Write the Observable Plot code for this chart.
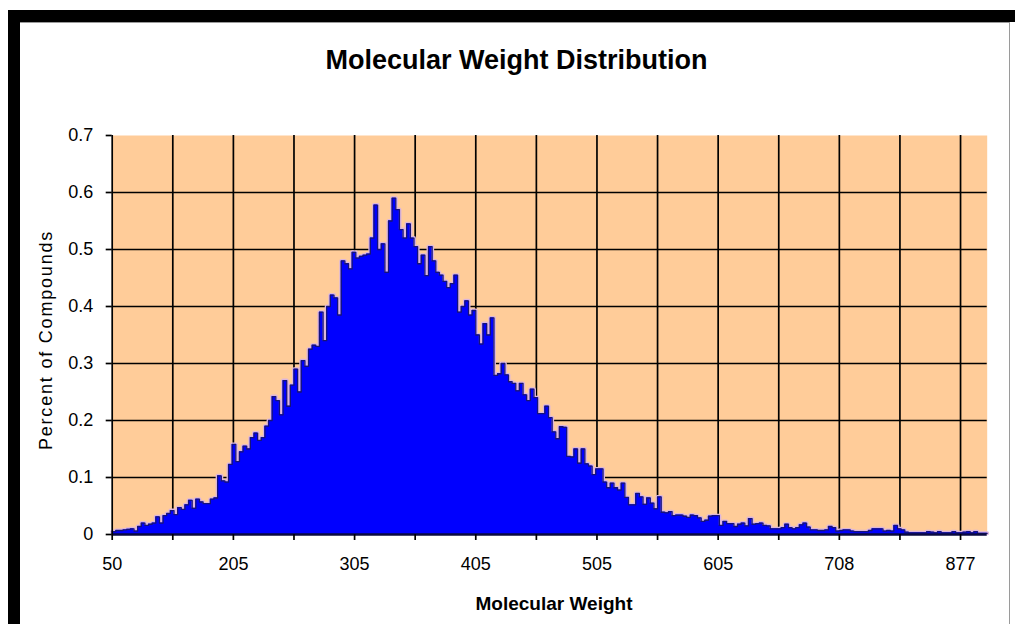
<!DOCTYPE html>
<html>
<head>
<meta charset="utf-8">
<script src="https://cdn.jsdelivr.net/npm/d3@7"></script>
<script src="https://cdn.jsdelivr.net/npm/@observablehq/plot@0.6"></script>
<style>
  body { margin: 0; background: #fff; }
  #wrap { position: relative; width: 1015px; height: 624px; overflow: hidden; font-family: "Liberation Sans", Arial, sans-serif; color: #000; }
  #chart { position: absolute; left: 0; top: 0; }
  .blk { position: absolute; background: #000; }
  .gry { position: absolute; background: #9a9a9a; }
  .lbl { position: absolute; white-space: nowrap; line-height: 1; }
  #title { font-size: 27px; font-weight: bold; left: 516.5px; top: 46.5px; transform: translateX(-50%); }
  #xlabel { font-size: 19px; font-weight: bold; left: 554px; top: 594px; transform: translateX(-50%); }
  #ylabel { font-size: 18px; left: 46px; top: 340px; transform: translate(-50%, -50%) rotate(-90deg); letter-spacing: 1.8px; }
</style>
</head>
<body>
<div id="wrap">
  <div id="chart"></div>
  <div class="blk" style="left:8px;top:10px;width:1007px;height:12px;"></div>
  <div class="blk" style="left:8px;top:10px;width:12px;height:614px;"></div>
  <div class="gry" style="left:20px;top:22px;width:989px;height:1px;"></div>
  <div class="gry" style="left:1009px;top:22px;width:1px;height:602px;"></div>
  <div class="lbl" id="title">Molecular Weight Distribution</div>
  <div class="lbl" id="xlabel">Molecular Weight</div>
  <div class="lbl" id="ylabel">Percent of Compounds</div>
</div>
<script>
// Percent of compounds, one value per group of 3 consecutive molecular-weight categories
const percent = [
  0.005, 0.007, 0.007, 0.008, 0.009, 0.010, 0.006, 0.014, 0.020, 0.016,
  0.018, 0.020, 0.031, 0.020, 0.033, 0.037, 0.042, 0.035, 0.047, 0.044,
  0.052, 0.060, 0.046, 0.062, 0.057, 0.054, 0.054, 0.062, 0.064, 0.103,
  0.094, 0.092, 0.123, 0.158, 0.128, 0.145, 0.155, 0.150, 0.170, 0.178,
  0.165, 0.170, 0.190, 0.200, 0.242, 0.235, 0.210, 0.270, 0.225, 0.262,
  0.290, 0.250, 0.305, 0.295, 0.325, 0.332, 0.330, 0.390, 0.340, 0.400,
  0.420, 0.415, 0.385, 0.480, 0.475, 0.466, 0.495, 0.485, 0.488, 0.490,
  0.492, 0.520, 0.578, 0.500, 0.510, 0.460, 0.550, 0.590, 0.570, 0.535,
  0.520,
  0.545, 0.520, 0.505, 0.475, 0.490, 0.454, 0.505, 0.480, 0.460, 0.455,
  0.444, 0.433, 0.440, 0.455, 0.390, 0.400, 0.410, 0.385, 0.393, 0.350,
  0.334, 0.370, 0.350, 0.380, 0.279, 0.282, 0.300, 0.280, 0.268, 0.265,
  0.252, 0.265, 0.245, 0.235, 0.255, 0.240, 0.212, 0.212, 0.225, 0.205,
  0.180, 0.168, 0.189, 0.188, 0.137, 0.136, 0.150, 0.125, 0.150, 0.124,
  0.120, 0.105, 0.115, 0.115, 0.092, 0.082, 0.090, 0.082, 0.078, 0.090,
  0.065, 0.052, 0.052, 0.072, 0.066, 0.053, 0.064, 0.055, 0.045, 0.066,
  0.039, 0.038, 0.040, 0.033, 0.034, 0.034, 0.032, 0.030, 0.034,
  0.033, 0.029, 0.023, 0.025, 0.032, 0.033, 0.033, 0.016, 0.023, 0.019,
  0.019, 0.014, 0.018, 0.020, 0.015, 0.028, 0.018, 0.019, 0.020, 0.016,
  0.015, 0.010, 0.010, 0.010, 0.012, 0.018, 0.012, 0.010, 0.012, 0.017,
  0.020, 0.013, 0.008, 0.008, 0.007, 0.007, 0.008, 0.014, 0.012, 0.006,
  0.007, 0.008, 0.008, 0.006, 0.005, 0.005, 0.005, 0.005, 0.007, 0.010,
  0.010, 0.010, 0.006, 0.007, 0.006, 0.016, 0.010, 0.008, 0.004, 0.003,
  0.003, 0.003, 0.003, 0.003, 0.005, 0.004, 0.003, 0.005, 0.003, 0.003,
  0.003, 0.005, 0.003, 0.003, 0.004, 0.005, 0.003, 0.005, 0.002, 0.002,
  0.002
];
const categoriesPerValue = 3;
const categoryCount = 722;
const tickCategories = [0, 50, 100, 150, 200, 250, 300, 350, 400, 450, 500, 550, 600, 650, 700];
const labelCategories = [0, 100, 200, 300, 400, 500, 600, 700];
const tickLabels = ["50", "205", "305", "405", "505", "605", "708", "877"];
const yTicks = [0, 0.1, 0.2, 0.3, 0.4, 0.5, 0.6, 0.7];
const yGridValues = [0.1, 0.2, 0.3, 0.4, 0.5, 0.6];

const rows = percent.map((v, i) => ({ x: i * categoriesPerValue, y: v }));
rows.push({ x: categoryCount, y: percent[percent.length - 1] });
const labelOf = new Map(labelCategories.map((c, i) => [c, tickLabels[i]]));

const chart = Plot.plot({
  width: 1015,
  height: 624,
  marginLeft: 111.7,
  marginRight: 28.3,
  marginTop: 135,
  marginBottom: 90,
  style: { background: "transparent", fontFamily: "'Liberation Sans', Arial, sans-serif", fontSize: "18px", color: "#000" },
  x: { domain: [0, categoryCount], axis: null },
  y: { domain: [0, 0.7], axis: null },
  marks: [
    Plot.frame({ fill: "#FFCC99", stroke: null }),
    Plot.gridX(tickCategories.slice(1), { stroke: "#000", strokeOpacity: 1, strokeWidth: 1.7 }),
    Plot.gridY(yGridValues, { stroke: "#000", strokeOpacity: 1, strokeWidth: 1.7 }),
    Plot.lineY(rows, { x: "x", y: "y", curve: "step-after", stroke: "#dcb6dc", strokeWidth: 4 }),
    Plot.areaY(rows, { x: "x", y: "y", curve: "step-after", fill: "#0000FF" }),
    Plot.lineY(rows, { x: "x", y: "y", curve: "step-after", stroke: "#16127a", strokeWidth: 1.3 }),
    Plot.ruleY([0], { stroke: "#0a0a40", strokeWidth: 2.5 }),
    Plot.ruleX([0], { stroke: "#000", strokeWidth: 1.7 }),
    Plot.axisY({ ticks: yTicks, label: null, tickSize: 6, tickPadding: 13, strokeWidth: 1.7,
      tickFormat: d => d === 0 ? "0" : d.toFixed(1) }),
    Plot.axisX({ ticks: tickCategories, label: null, tickSize: 6, tickPadding: 17, strokeWidth: 1.7,
      tickFormat: d => labelOf.get(d) ?? "" })
  ]
});
document.getElementById("chart").appendChild(chart);
</script>
</body>
</html>
